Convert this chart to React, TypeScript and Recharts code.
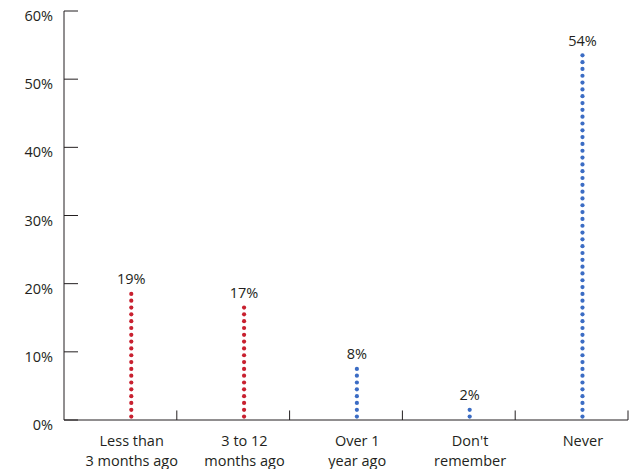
import React from "react";
import {
  BarChart,
  Bar,
  XAxis,
  YAxis,
  LabelList,
  ReferenceLine,
} from "recharts";

const categories = [
  ["Less than", "3 months ago"],
  ["3 to 12", "months ago"],
  ["Over 1", "year ago"],
  ["Don't", "remember"],
  ["Never"],
];
const values = [19, 17, 8, 2, 54];
const barColors = ["#c8202f", "#c8202f", "#3b6cc4", "#3b6cc4", "#3b6cc4"];
const yTicks = [0, 10, 20, 30, 40, 50, 60];
const boundaries = [0.4, 1.4, 2.4, 3.4, 4.4];

const data = values.map((v, i) => ({ pos: i, value: v, color: barColors[i] }));

const FONT = "'Open Sans', sans-serif";
const INK = "#231f20";
const FS = 14.5;

// one dot per percentage point, stacked from the axis up
function DotColumn(props: any) {
  const { x, y, width, height, payload } = props;
  if (!payload || !payload.value) return null;
  const cx = x + width / 2;
  const step = height / payload.value;
  const dots = [];
  for (let k = 0; k < payload.value; k++) {
    dots.push(
      <circle
        key={k}
        cx={cx}
        cy={y + height - (k + 0.5) * step}
        r={2.1}
        fill={payload.color}
      />
    );
  }
  return <g>{dots}</g>;
}

function YTick(props: any) {
  const { x, y, payload } = props;
  return (
    <text
      x={x}
      y={y + 5}
      dy="0.35em"
      textAnchor="end"
      fontFamily={FONT}
      fontSize={FS}
      fill={INK}
    >
      {payload.value}%
    </text>
  );
}

function XTick(props: any) {
  const { x, y, payload } = props;
  const lines = categories[payload.value] || [];
  return (
    <text x={x} textAnchor="middle" fontFamily={FONT} fontSize={FS} fill={INK}>
      {lines.map((l, i) => (
        <tspan key={i} x={x} y={y + 18 + i * 19.5}>
          {l}
        </tspan>
      ))}
    </text>
  );
}

export default function App() {
  return (
    <div style={{ position: "absolute", left: 0, top: 0, background: "#fff" }}>
      <BarChart
        width={633}
        height={469}
        data={data}
        margin={{ top: 11, right: 5, left: 0, bottom: 0 }}
      >
        <XAxis
          dataKey="pos"
          type="number"
          domain={[-0.6, 4.4]}
          ticks={[0, 1, 2, 3, 4]}
          tickLine={false}
          axisLine={{ stroke: INK }}
          tick={<XTick />}
          height={49}
          interval={0}
        />
        <YAxis
          domain={[0, 60]}
          ticks={yTicks}
          width={64}
          tickSize={-14}
          tickMargin={25}
          axisLine={{ stroke: INK }}
          tickLine={{ stroke: INK }}
          tick={<YTick />}
          interval={0}
        />
        {boundaries.map((b) => (
          <ReferenceLine
            key={b}
            segment={[
              { x: b, y: 0 },
              { x: b, y: 1.4 },
            ]}
            stroke={INK}
            ifOverflow="visible"
          />
        ))}
        <Bar
          dataKey="value"
          barSize={10}
          shape={<DotColumn />}
          isAnimationActive={false}
        >
          <LabelList
            dataKey="value"
            position="top"
            offset={6}
            formatter={(v: any) => `${v}%`}
            style={{ fontFamily: FONT, fontSize: FS, fill: INK }}
          />
        </Bar>
      </BarChart>
    </div>
  );
}
